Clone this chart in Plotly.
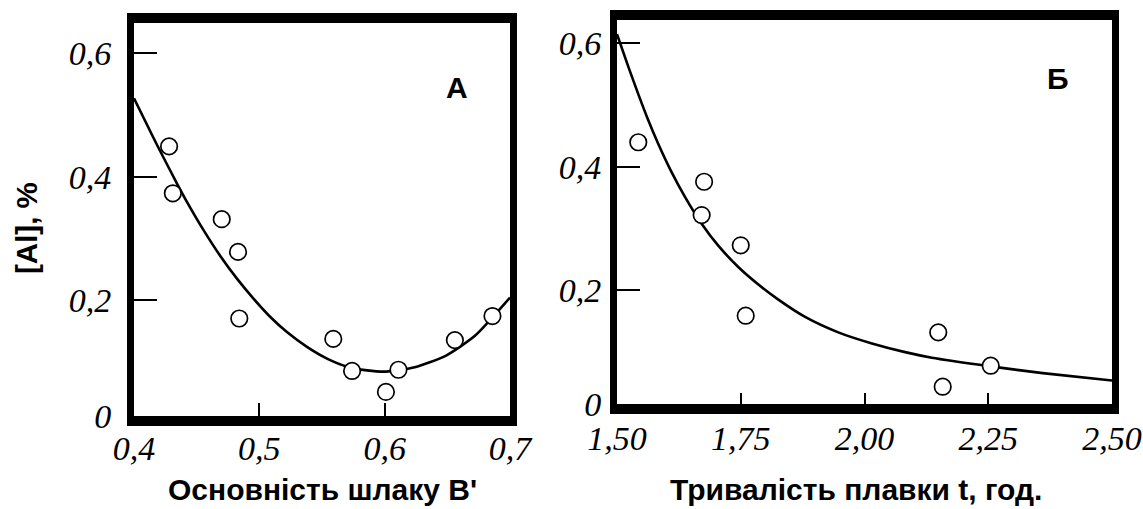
import plotly.graph_objects as go

W, H = 1143, 509

# ---- Panel A: slag basicity vs [Al] ----
basicity_pts = [0.428, 0.431, 0.470, 0.483, 0.484, 0.559, 0.574, 0.601, 0.611, 0.656, 0.686]
al_pts_a = [0.449, 0.373, 0.331, 0.278, 0.170, 0.137, 0.085, 0.051, 0.087, 0.135, 0.174]
basicity_curve = [0.400, 0.415, 0.423, 0.434, 0.442, 0.455, 0.469, 0.482, 0.495, 0.509,
                  0.522, 0.538, 0.554, 0.570, 0.586, 0.601, 0.624, 0.649, 0.672, 0.700]
al_curve_a = [0.527, 0.465, 0.433, 0.390, 0.360, 0.315, 0.271, 0.235, 0.203, 0.172,
              0.148, 0.124, 0.105, 0.092, 0.086, 0.084, 0.091, 0.110, 0.142, 0.204]

# ---- Panel Б: melting duration vs [Al] ----
time_pts = [1.543, 1.676, 1.671, 1.750, 1.760, 2.149, 2.158, 2.255]
al_pts_b = [0.440, 0.376, 0.322, 0.273, 0.159, 0.132, 0.044, 0.078]
time_curve = [1.500, 1.523, 1.543, 1.563, 1.583, 1.610, 1.637, 1.671, 1.705, 1.745,
              1.785, 1.826, 1.880, 1.947, 2.015, 2.082, 2.136, 2.255, 2.360, 2.500]
al_curve_b = [0.615, 0.562, 0.518, 0.476, 0.438, 0.392, 0.352, 0.308, 0.272, 0.238,
              0.210, 0.185, 0.157, 0.132, 0.114, 0.100, 0.091, 0.077, 0.066, 0.054]

# axis ranges (the printed frame sits slightly above the zero line)
xa_range = [0.4, 0.7]
ya_range = [0.012, 0.649]
xb_range = [1.5, 2.5]
yb_range = [0.016, 0.638]

xa_ticks = [0.4, 0.5, 0.6, 0.7]
xa_labels = ["0,4", "0,5", "0,6", "0,7"]
xb_ticks = [1.5, 1.75, 2.0, 2.25, 2.5]
xb_labels = ["1,50", "1,75", "2,00", "2,25", "2,50"]
y_labels = ["0", "0,2", "0,4", "0,6"]
ya_ticks = [ya_range[0], 0.2, 0.4, 0.6]
yb_ticks = [yb_range[0], 0.2, 0.4, 0.6]


def px_x(p):
    return p / W


def px_y(p):
    return 1 - p / H


tick_font = dict(family="Liberation Serif", size=34, color="black", style="italic")
title_font = dict(family="Liberation Sans", size=30, color="black", weight="bold")
ytitle_font = dict(family="Liberation Sans", size=29.5, color="black", weight="bold")
letter_font = dict(family="Liberation Sans", size=30, color="black", weight="bold")

marker_style = dict(symbol="circle", size=16.5, color="white",
                    line=dict(color="black", width=1.7))
line_style = dict(color="black", width=2.6, shape="spline", smoothing=0.6)

fig = go.Figure()
fig.add_trace(go.Scatter(x=basicity_curve, y=al_curve_a, mode="lines", line=line_style,
                         xaxis="x", yaxis="y", showlegend=False, hoverinfo="skip"))
fig.add_trace(go.Scatter(x=basicity_pts, y=al_pts_a, mode="markers", marker=marker_style,
                         xaxis="x", yaxis="y", showlegend=False))
fig.add_trace(go.Scatter(x=time_curve, y=al_curve_b, mode="lines", line=line_style,
                         xaxis="x2", yaxis="y2", showlegend=False, hoverinfo="skip"))
fig.add_trace(go.Scatter(x=time_pts, y=al_pts_b, mode="markers", marker=marker_style,
                         xaxis="x2", yaxis="y2", showlegend=False))

common = dict(showgrid=False, zeroline=False, showline=True, linecolor="black",
              mirror=True, ticks="inside", tickcolor="black", tickwidth=1.8,
              tickfont=tick_font, automargin=False)

fig.update_layout(
    width=W, height=H, autosize=False,
    margin=dict(l=0, r=0, t=0, b=0, pad=0, autoexpand=False),
    paper_bgcolor="white", plot_bgcolor="white",
    xaxis=dict(domain=[px_x(134), px_x(510)], range=xa_range, anchor="y",
               tickvals=xa_ticks, ticktext=xa_labels, ticklen=13, linewidth=10,
               ticklabelstandoff=-7, **common),
    yaxis=dict(domain=[px_y(416), px_y(23)], range=ya_range, anchor="x",
               tickvals=ya_ticks, ticktext=y_labels, ticklen=23, linewidth=7,
               ticklabelstandoff=9, **common),
    xaxis2=dict(domain=[px_x(617), px_x(1112)], range=xb_range, anchor="y2",
                tickvals=xb_ticks, ticktext=xb_labels, ticklen=11, linewidth=10,
                ticklabelstandoff=-5, **common),
    yaxis2=dict(domain=[px_y(404), px_y(20)], range=yb_range, anchor="x2",
                tickvals=yb_ticks, ticktext=y_labels, ticklen=23, linewidth=7,
                ticklabelstandoff=2, **common),
    annotations=[
        dict(text="А", x=0.658, y=0.544, xref="x", yref="y", showarrow=False,
             xanchor="center", yanchor="middle", font=letter_font),
        dict(text="Б", x=2.391, y=0.544, xref="x2", yref="y2", showarrow=False,
             xanchor="center", yanchor="middle", font=letter_font),
        dict(text="Основність шлаку В'", x=px_x(322), y=px_y(489), xref="paper",
             yref="paper", showarrow=False, xanchor="center", yanchor="middle",
             font=title_font),
        dict(text="Тривалість плавки t, год.", x=px_x(856), y=px_y(489), xref="paper",
             yref="paper", showarrow=False, xanchor="center", yanchor="middle",
             font=title_font),
        dict(text="[Al], %", x=px_x(26), y=px_y(228), xref="paper", yref="paper",
             showarrow=False, textangle=-90, xanchor="center", yanchor="middle",
             font=ytitle_font),
    ],
)

fig.write_html("out.html")
